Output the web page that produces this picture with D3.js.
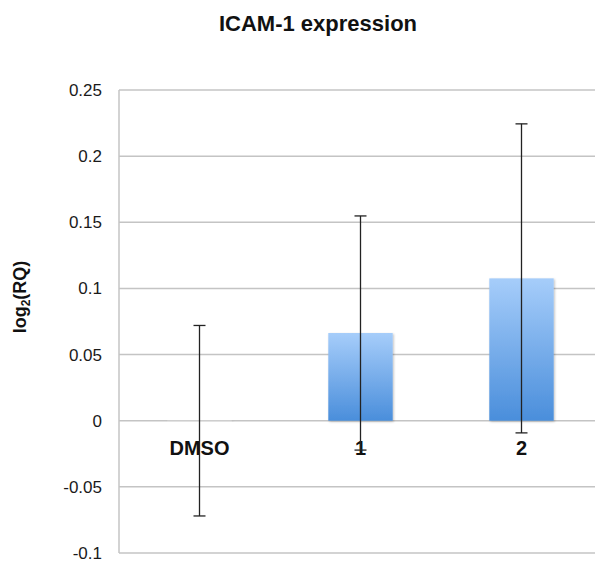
<!DOCTYPE html>
<html>
<head>
<meta charset="utf-8">
<script src="https://cdnjs.cloudflare.com/ajax/libs/d3/7.8.5/d3.min.js"></script>
<style>
  html, body { margin: 0; padding: 0; background: #fff; }
  svg { display: block; font-family: "Liberation Sans", Arial, sans-serif; }
</style>
</head>
<body>
<svg id="chart" width="595" height="563"></svg>
<script>
// ICAM-1 expression, log2 relative quantity per treatment
const categories = ["DMSO", "1", "2"];
const values = [0, 0.0663, 0.1076];
const errors = [0.072, 0.0885, 0.1168];
const yTicks = [0.25, 0.2, 0.15, 0.1, 0.05, 0, -0.05, -0.1];

const svg = d3.select("#chart");
const margin = { left: 119, top: 90, right: -7, bottom: 10 };
const W = 595, H = 563;
const plotBottom = 553;

const x = d3.scaleBand()
  .domain(categories)
  .range([margin.left, W - margin.right])
  .paddingInner(0.6)
  .paddingOuter(0.3);

const y = d3.scaleLinear()
  .domain([-0.1, 0.25])
  .range([plotBottom, margin.top]);

// Bar gradient and soft shadow
const defs = svg.append("defs");
const grad = defs.append("linearGradient")
  .attr("id", "barGrad").attr("x1", 0).attr("y1", 0).attr("x2", 0).attr("y2", 1);
grad.append("stop").attr("offset", "0%").attr("stop-color", "#a6cdfa");
grad.append("stop").attr("offset", "100%").attr("stop-color", "#4a8edb");
const shadow = defs.append("filter").attr("id", "shadow")
  .attr("x", "-20%").attr("y", "-20%").attr("width", "140%").attr("height", "140%");
shadow.append("feDropShadow")
  .attr("dx", 1).attr("dy", 1).attr("stdDeviation", 1.2)
  .attr("flood-color", "#000").attr("flood-opacity", 0.25);

// Horizontal gridlines
svg.append("g")
  .selectAll("line")
  .data(yTicks)
  .join("line")
  .attr("x1", margin.left)
  .attr("x2", W + 10)
  .attr("y1", d => y(d))
  .attr("y2", d => y(d))
  .attr("stroke", "#c4c4c4")
  .attr("stroke-width", 1.5);

// Left axis line
svg.append("line")
  .attr("x1", margin.left).attr("x2", margin.left)
  .attr("y1", y(0.25)).attr("y2", y(-0.1))
  .attr("stroke", "#c4c4c4").attr("stroke-width", 1.5);

// Y tick labels (plain hyphen for negatives)
const yAxis = d3.axisLeft(y)
  .tickValues(yTicks)
  .tickSize(0)
  .tickPadding(17)
  .tickFormat(d => String(+d.toFixed(2)));
svg.append("g")
  .attr("transform", `translate(${margin.left},0)`)
  .call(yAxis)
  .call(g => g.select(".domain").remove())
  .call(g => g.selectAll("text")
    .attr("font-family", "Liberation Sans, Arial, sans-serif")
    .attr("font-size", 17)
    .attr("fill", "#1a1a1a"));

// Bars (DMSO is a zero-height bar, shown as a faint line)
svg.append("g")
  .selectAll("rect")
  .data(categories.map((c, i) => ({ c, v: values[i] })))
  .join("rect")
  .attr("x", d => x(d.c))
  .attr("width", x.bandwidth())
  .attr("y", d => Math.min(y(d.v), y(0)))
  .attr("height", d => Math.max(Math.abs(y(d.v) - y(0)), 0.8))
  .attr("fill", d => d.v === 0 ? "#e8e8e8" : "url(#barGrad)")
  .attr("filter", "url(#shadow)");

// Category labels
svg.append("g")
  .selectAll("text")
  .data(categories)
  .join("text")
  .attr("x", d => x(d) + x.bandwidth() / 2)
  .attr("y", y(0) + 34)
  .attr("text-anchor", "middle")
  .attr("font-size", 20)
  .attr("font-weight", "bold")
  .attr("fill", "#111")
  .text(d => d);

// Error bars
const eb = svg.append("g").attr("stroke", "#222").attr("stroke-width", 1.3);
categories.forEach((c, i) => {
  const cx = x(c) + x.bandwidth() / 2;
  const hi = values[i] + errors[i], lo = values[i] - errors[i];
  eb.append("line").attr("x1", cx).attr("x2", cx).attr("y1", y(hi)).attr("y2", y(lo));
  eb.append("line").attr("x1", cx - 6).attr("x2", cx + 6).attr("y1", y(hi)).attr("y2", y(hi));
  eb.append("line").attr("x1", cx - 6).attr("x2", cx + 6).attr("y1", y(lo)).attr("y2", y(lo));
});

// Title
svg.append("text")
  .attr("x", 318).attr("y", 31)
  .attr("text-anchor", "middle")
  .attr("font-size", 22)
  .attr("font-weight", "bold")
  .attr("fill", "#111")
  .text("ICAM-1 expression");

// Y axis title
const yt = svg.append("text")
  .attr("transform", `translate(26,297) rotate(-90)`)
  .attr("text-anchor", "middle")
  .attr("font-size", 18)
  .attr("font-weight", "bold")
  .attr("fill", "#111");
yt.append("tspan").text("log");
yt.append("tspan").attr("font-size", 12).attr("dy", 4).text("2");
yt.append("tspan").attr("dy", -4).text("(RQ)");
</script>
</body>
</html>
